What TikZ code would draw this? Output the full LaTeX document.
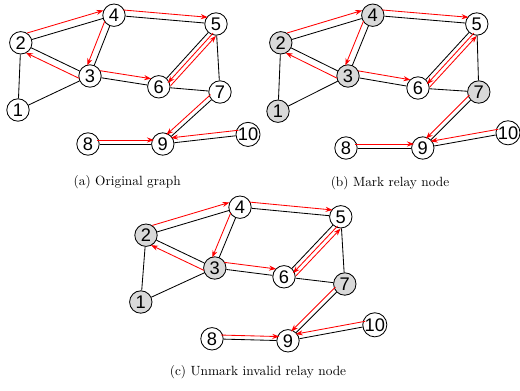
\documentclass[tikz,border=0pt]{standalone}
\usepackage{fontspec}
\newfontfamily\numfont{Liberation Sans}
\usepackage{tikz}
\usetikzlibrary{arrows.meta}
\usetikzlibrary{calc}

\begin{document}
\begin{tikzpicture}[line width=0.6pt]
    \useasboundingbox (0,0) rectangle (13,-9.75);
    \tikzset{
      vtx/.style={circle,draw,fill=white,minimum size=0.56cm,inner sep=0pt,
                  font=\numfont\fontsize{13}{13}\selectfont},
      relay/.style={vtx,fill=gray!30},
      hop/.style={red,-{Stealth[length=5pt,width=3.6pt]},
                  shorten <=0.22cm,shorten >=0.22cm},
      subcap/.style={font=\fontsize{9.5}{11}\selectfont}
    }

    % (a) original graph
    \node[vtx] (A1) at (0.45,-2.75) {1};
    \node[vtx] (A2) at (0.52,-1.07) {2};
    \node[vtx] (A3) at (2.25,-1.90) {3};
    \node[vtx] (A4) at (2.85,-0.38) {4};
    \node[vtx] (A5) at (5.40,-0.60) {5};
    \node[vtx] (A6) at (3.97,-2.17) {6};
    \node[vtx] (A7) at (5.50,-2.30) {7};
    \node[vtx] (A8) at (2.20,-3.60) {8};
    \node[vtx] (A9) at (4.07,-3.60) {9};
    \node[vtx] (A10) at (6.20,-3.36) {10};

    % (b) mark relay node
    \node[relay] (B1) at (6.95,-2.78) {1};
    \node[relay] (B2) at (7.02,-1.07) {2};
    \node[relay] (B3) at (8.70,-1.90) {3};
    \node[relay] (B4) at (9.32,-0.38) {4};
    \node[vtx] (B5) at (11.92,-0.60) {5};
    \node[vtx] (B6) at (10.45,-2.20) {6};
    \node[relay] (B7) at (11.97,-2.30) {7};
    \node[vtx] (B8) at (8.65,-3.70) {8};
    \node[vtx] (B9) at (10.57,-3.70) {9};
    \node[vtx] (B10) at (12.70,-3.32) {10};

    % (c) unmark invalid relay node
    \node[relay] (C1) at (3.52,-7.55) {1};
    \node[relay] (C2) at (3.65,-5.88) {2};
    \node[relay] (C3) at (5.37,-6.70) {3};
    \node[vtx] (C4) at (6.00,-5.18) {4};
    \node[vtx] (C5) at (8.52,-5.42) {5};
    \node[vtx] (C6) at (7.10,-6.92) {6};
    \node[relay] (C7) at (8.62,-7.10) {7};
    \node[vtx] (C8) at (5.30,-8.47) {8};
    \node[vtx] (C9) at (7.20,-8.52) {9};
    \node[vtx] (C10) at (9.37,-8.12) {10};

    \foreach \p in {A,B,C} {
      \foreach \s/\t in {1/2,1/3,2/3,2/4,3/4,4/5,3/6,5/6,5/7,6/7,7/9,8/9,9/10}
        \draw (\p\s) -- (\p\t);
      % offset to the left of s->t for d > 0
      \foreach \s/\t/\d in {2/4/0.19cm,4/5/0.15cm,4/3/-0.16cm,3/2/0.17cm,3/6/0.17cm,
                            5/6/0.1cm,6/5/-0.2cm,7/9/-0.11cm,8/9/0.1cm,10/9/-0.13cm}
        \draw[hop] ($(\p\s)!\d!90:(\p\t)$) -- ($(\p\t)!\d!-90:(\p\s)$);
    }

    \node[subcap] (capA) at (3.18,-4.56) {(a) Original graph};
    \node[subcap] (capB) at (9.75,-4.57) {(b) Mark relay node};
    \node[subcap] (capC) at (6.45,-9.30) {(c) Unmark invalid relay node};
\end{tikzpicture}
\end{document}
